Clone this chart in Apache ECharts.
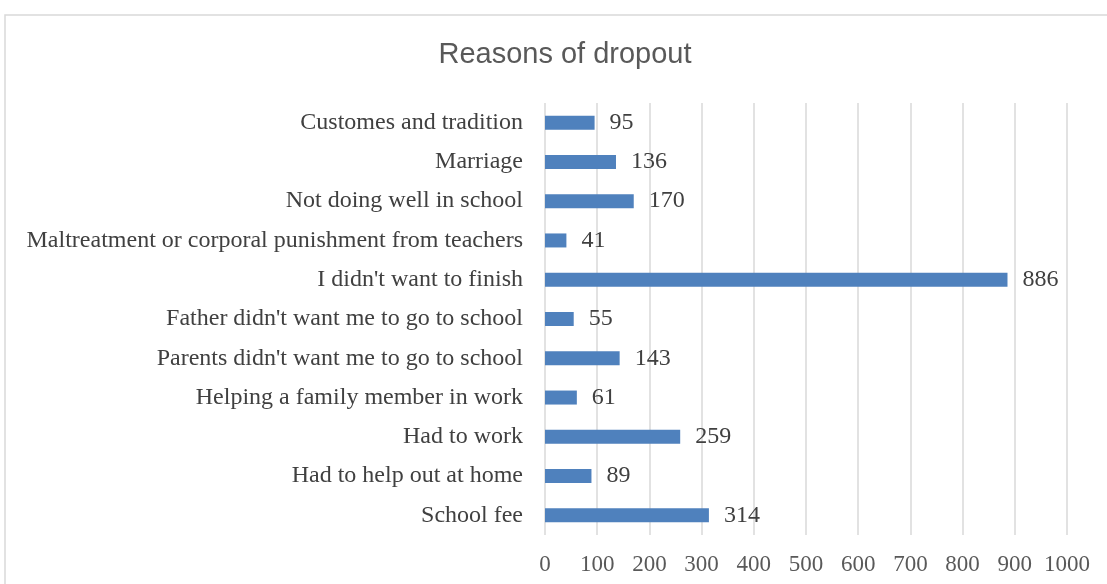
<!DOCTYPE html>
<html>
<head>
<meta charset="utf-8">
<script src="https://cdn.jsdelivr.net/npm/echarts@6/dist/echarts.min.js"></script>
<style>
  html, body { margin: 0; padding: 0; background: #fff; }
  #chart { width: 1107px; height: 584px; }
</style>
</head>
<body>
<div id="chart"></div>
<script>
// Reasons given for leaving school, listed bottom to top as drawn on the axis
const categories = [
  'School fee',
  'Had to help out at home',
  'Had to work',
  'Helping a family member in work',
  "Parents didn't want me to go to school",
  "Father didn't want me to go to school",
  "I didn't want to finish",
  'Maltreatment or corporal punishment from teachers',
  'Not doing well in school',
  'Marriage',
  'Customes and tradition'
];
const counts = [314, 89, 259, 61, 143, 55, 886, 41, 170, 136, 95];
const axisTicks = { min: 0, max: 1000, interval: 100 };

const serif = 'Liberation Serif, Times New Roman, serif';

const chart = echarts.init(document.getElementById('chart'));
chart.setOption({
  animation: false,
  backgroundColor: '#ffffff',
  graphic: [{
    type: 'rect',
    shape: { x: 5, y: 15, width: 1120, height: 600 },
    style: { fill: 'none', stroke: '#d9d9d9', lineWidth: 1.5 },
    silent: true
  }],
  title: {
    text: 'Reasons of dropout',
    left: 560,
    top: 35,
    textAlign: 'center',
    textStyle: {
      fontFamily: 'Liberation Sans, Arial, sans-serif',
      fontWeight: 'normal',
      fontSize: 29,
      color: '#595959'
    }
  },
  grid: { left: 545, right: 40, top: 103, height: 432, containLabel: false },
  xAxis: {
    type: 'value',
    min: axisTicks.min,
    max: axisTicks.max,
    interval: axisTicks.interval,
    axisLine: { show: false },
    axisTick: { show: false },
    splitLine: { lineStyle: { color: '#d9d9d9', width: 1.5 } },
    axisLabel: {
      margin: 18,
      fontFamily: serif,
      fontSize: 23,
      color: '#595959',
      formatter: (v) => String(v)
    }
  },
  yAxis: {
    type: 'category',
    data: categories,
    axisLine: { show: false },
    axisTick: { show: false },
    axisLabel: {
      margin: 22,
      padding: [3, 0, 0, 0],
      fontFamily: serif,
      fontSize: 24,
      color: '#404040'
    }
  },
  series: [{
    type: 'bar',
    data: counts,
    barWidth: 14,
    itemStyle: { color: '#4f81bd' },
    label: {
      show: true,
      position: 'right',
      distance: 15,
      padding: [3, 0, 0, 0],
      fontFamily: serif,
      fontSize: 24,
      color: '#404040'
    }
  }]
});
</script>
</body>
</html>
